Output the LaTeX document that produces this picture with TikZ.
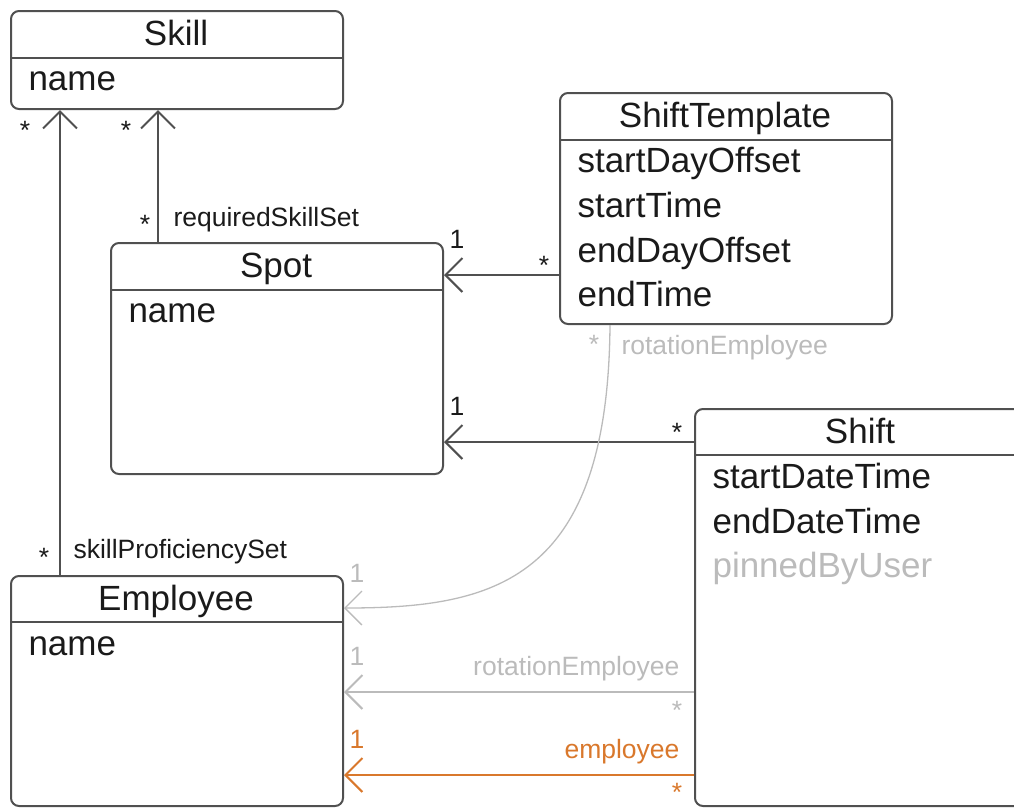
\documentclass[tikz,border=0pt]{standalone}
\usepackage{fontspec}
\setmainfont{Liberation Sans}
\usetikzlibrary{arrows.meta}

\definecolor{umlline}{HTML}{505050}
\definecolor{umltext}{HTML}{1A1A1A}
\definecolor{shadowgray}{HTML}{BBBBBB}
\definecolor{planorange}{HTML}{D9782C}
\newcommand{\umlbig}{\fontsize{35}{42}\selectfont}
\newcommand{\umlsmall}{\fontsize{26.5}{32}\selectfont}

\tikzset{
  classbox/.style = {draw = umlline, line width = 2pt, rounded corners = 8pt, anchor = north west, inner sep = 0pt, minimum width = 332pt},
  classtitle/.style = {anchor = base, font = \umlbig, text = umltext},
  attr/.style = {anchor = base west, font = \umlbig, text = umltext},
  mult/.style = {anchor = base, font = \umlsmall, text = umltext},
  role/.style = {anchor = base west, font = \umlsmall, text = umltext},
  sep/.style = {draw = umlline, line width = 2pt},
  assoc/.style = {draw = umlline, line width = 2pt, -{Straight Barb[length = 17pt, width = 34pt]}}
}

\begin{document}
\begin{tikzpicture}[x = 1pt, y = -1pt]
    \useasboundingbox (0,0) rectangle (1014,807);
    \clip (0,0) rectangle (1014,807);

    % classes
    \node[classbox, minimum height = 98pt](skill) at (10,10) {};
    \node[classbox, minimum height = 231pt](spot) at (110,242) {};
    \node[classbox, minimum height = 231pt](template) at (559,92) {};
    \node[classbox, minimum height = 397pt](shift) at (694,408) {};
    \node[classbox, minimum height = 230pt](employee) at (10,575) {};

    \draw[sep] ([yshift = -48pt]skill.north west) -- ([yshift = -48pt]skill.north east);
    \draw[sep] ([yshift = -48pt]spot.north west) -- ([yshift = -48pt]spot.north east);
    \draw[sep] ([yshift = -48pt]template.north west) -- ([yshift = -48pt]template.north east);
    \draw[sep] ([yshift = -47pt]shift.north west) -- ([yshift = -47pt]shift.north east);
    \draw[sep] ([yshift = -47pt]employee.north west) -- ([yshift = -47pt]employee.north east);

    \node[classtitle](skillTitle) at (176,45) {Skill};
    \node[attr](skillName) at (25,90) {name};

    \node[classtitle](spotTitle) at (276,277) {Spot};
    \node[attr](spotName) at (125,322) {name};

    \node[classtitle](templateTitle) at (725,127) {ShiftTemplate};
    \node[attr](templateStartDay) at (574,172) {startDayOffset};
    \node[attr](templateStartTime) at (574,217) {startTime};
    \node[attr](templateEndDay) at (574,262) {endDayOffset};
    \node[attr](templateEndTime) at (574,306) {endTime};

    \node[classtitle](shiftTitle) at (860,443) {Shift};
    \node[attr](shiftStart) at (709,488) {startDateTime};
    \node[attr](shiftEnd) at (709,533) {endDateTime};
    \node[attr, text = shadowgray](shiftPinned) at (709,577) {pinnedByUser};

    \node[classtitle](employeeTitle) at (176,610) {Employee};
    \node[attr](employeeName) at (25,655) {name};

    % associations
    \draw[assoc] ([xshift = 50pt]employee.north west) -- ([xshift = 50pt]skill.south west);
    \draw[assoc] ([xshift = 48pt]spot.north west) -- ([xshift = 148pt]skill.south west);
    \draw[assoc] ([yshift = -183pt]template.north west) -- ([yshift = -33pt]spot.north east);
    \draw[assoc] ([yshift = -34pt]shift.north west) -- ([yshift = -200pt]spot.north east);
    \draw[assoc, draw = shadowgray, line width = 1.3pt] ([xshift = 51pt]template.south west) .. controls +(-2,257) and +(150,0) .. ([yshift = -33pt]employee.north east);
    \draw[assoc, draw = shadowgray] ([yshift = -284pt]shift.north west) -- ([yshift = -117pt]employee.north east);
    \draw[assoc, draw = planorange] ([yshift = -367pt]shift.north west) -- ([yshift = -200pt]employee.north east);

    % multiplicities and roles
    \node[mult](proficiencyMany) at (25,139) {*};
    \node[mult](proficiencyOwner) at (44,566) {*};
    \node[role](proficiencyRole) at (70,558) {skillProficiencySet};

    \node[mult](requiredMany) at (126,139) {*};
    \node[mult](requiredOwner) at (145,233) {*};
    \node[role](requiredRole) at (170,226) {requiredSkillSet};

    \node[mult](templateSpotOne) at (457,248) {1};
    \node[mult](templateSpotMany) at (544,274) {*};

    \node[mult](shiftSpotOne) at (457,415) {1};
    \node[mult](shiftSpotMany) at (677,441) {*};

    \node[mult, text = shadowgray](templateRotMany) at (594,353) {*};
    \node[role, text = shadowgray](templateRotRole) at (618,354) {rotationEmployee};
    \node[mult, text = shadowgray](templateRotOne) at (357,582) {1};

    \node[mult, text = shadowgray](shiftRotOne) at (357,665) {1};
    \node[role, anchor = base east, text = shadowgray](shiftRotRole) at (683,675) {rotationEmployee};
    \node[mult, text = shadowgray](shiftRotMany) at (677,719) {*};

    \node[mult, text = planorange](employeeOne) at (357,748) {1};
    \node[role, anchor = base east, text = planorange](employeeRole) at (683,758) {employee};
    \node[mult, text = planorange](employeeMany) at (677,801) {*};
\end{tikzpicture}
\end{document}
